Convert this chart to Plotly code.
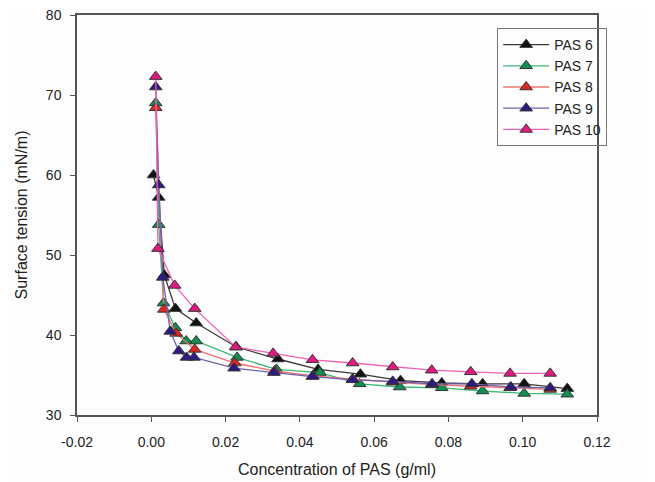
import plotly.graph_objects as go

series_names = ["PAS 6", "PAS 7", "PAS 8", "PAS 9", "PAS 10"]

x_pas6 = [0.0006, 0.0020, 0.0035, 0.0065, 0.0121, 0.0229, 0.0341, 0.0449, 0.0563, 0.0671, 0.0782, 0.0892, 0.1004, 0.1120]
y_pas6 = [60.0, 57.2, 47.5, 43.3, 41.5, 38.5, 37.0, 35.7, 35.1, 34.3, 34.0, 33.9, 33.9, 33.3]

x_pas7 = [0.0012, 0.0020, 0.0033, 0.0065, 0.0094, 0.0121, 0.0231, 0.0337, 0.0454, 0.0561, 0.0669, 0.0782, 0.0892, 0.1004, 0.1120]
y_pas7 = [69.0, 53.8, 44.0, 40.9, 39.25, 39.25, 37.2, 35.7, 35.3, 33.9, 33.5, 33.4, 33.0, 32.7, 32.6]

x_pas8 = [0.0012, 0.0034, 0.0067, 0.0117, 0.0225, 0.0332, 0.0435, 0.0542, 0.0650, 0.0755, 0.0860, 0.0966, 0.1074]
y_pas8 = [68.4, 43.2, 40.2, 38.2, 36.5, 35.5, 34.9, 34.5, 34.1, 33.8, 33.6, 33.4, 33.2]

x_pas9 = [0.0012, 0.0020, 0.0031, 0.0051, 0.0074, 0.0095, 0.0115, 0.0223, 0.0330, 0.0434, 0.0542, 0.0650, 0.0756, 0.0863, 0.0968, 0.1074]
y_pas9 = [71.0, 58.75, 47.2, 40.45, 38.0, 37.2, 37.2, 35.85, 35.3, 34.8, 34.4, 34.2, 33.9, 33.9, 33.5, 33.4]

x_pas10 = [0.0012, 0.0018, 0.0063, 0.0117, 0.0227, 0.0328, 0.0434, 0.0542, 0.0650, 0.0755, 0.0860, 0.0966, 0.1074]
y_pas10 = [72.3, 50.8, 46.2, 43.3, 38.5, 37.7, 36.9, 36.5, 36.0, 35.6, 35.4, 35.2, 35.2]

x_ticks = [-0.02, 0.00, 0.02, 0.04, 0.06, 0.08, 0.10, 0.12]
x_ticklabels = ["-0.02", "0.00", "0.02", "0.04", "0.06", "0.08", "0.10", "0.12"]
y_ticks = [30, 40, 50, 60, 70, 80]

xs = [x_pas6, x_pas7, x_pas8, x_pas9, x_pas10]
ys = [y_pas6, y_pas7, y_pas8, y_pas9, y_pas10]
line_colors = ["#3a3a3a", "#3cb878", "#f07070", "#7060b0", "#f060b0"]
marker_colors = ["#111111", "#109050", "#e02820", "#2e1a80", "#e01a80"]

fig = go.Figure()
for name, x, y, lc, mc in zip(series_names, xs, ys, line_colors, marker_colors):
    fig.add_trace(go.Scatter(
        x=x, y=y, name=name, mode="lines+markers",
        line=dict(color=lc, width=1.3),
        marker=dict(symbol="triangle-up", size=11, color=mc,
                    line=dict(color="#333333", width=1)),
    ))

font_family = "Liberation Sans, Arial, sans-serif"
fig.update_layout(
    width=647, height=474,
    margin=dict(l=69, r=58, t=7, b=67, autoexpand=False),
    paper_bgcolor="#fdfdfd", plot_bgcolor="#fdfdfd",
    font=dict(family=font_family, size=14, color="#222222"),
    showlegend=True,
    legend=dict(
        x=0.808, y=0.9675, xanchor="left", yanchor="top",
        bordercolor="#777777", borderwidth=1, bgcolor="rgba(0,0,0,0)",
        font=dict(size=14, color="#222222"),
        tracegroupgap=0, itemwidth=46,
    ),
)
fig.update_xaxes(
    range=[-0.02, 0.12], tickvals=x_ticks, ticktext=x_ticklabels,
    showgrid=False, zeroline=False, automargin=False,
    showline=True, linecolor="#555555", linewidth=1.5, mirror=True,
    ticks="outside", ticklen=5, tickwidth=1.2, tickcolor="#555555",
    ticklabelstandoff=8, ticklabeloverflow="allow",
    title=dict(text="Concentration of PAS (g/ml)", font=dict(size=16), standoff=15),
)
fig.update_yaxes(
    range=[30, 80], tickvals=y_ticks,
    showgrid=False, zeroline=False, automargin=False,
    showline=True, linecolor="#555555", linewidth=1.5, mirror=True,
    ticks="outside", ticklen=5, tickwidth=1.2, tickcolor="#555555",
    ticklabelstandoff=6, ticklabeloverflow="allow",
    title=dict(text="Surface tension (mN/m)", font=dict(size=16), standoff=14),
)

fig.write_html("out.html")
